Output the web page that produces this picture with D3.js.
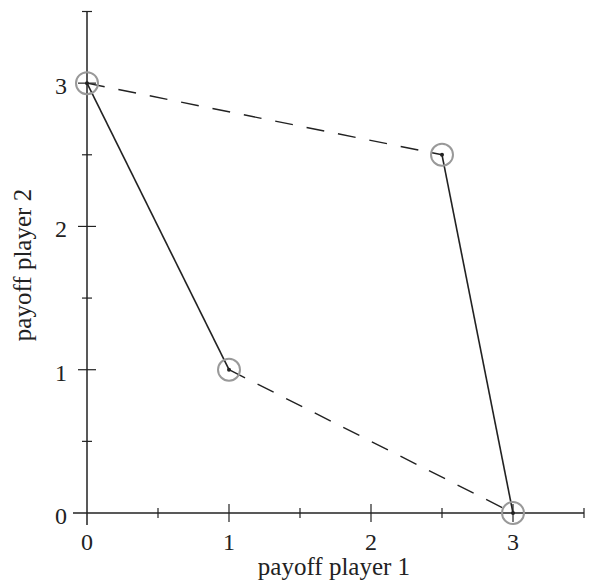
<!DOCTYPE html>
<html><head><meta charset="utf-8">
<script src="https://cdn.jsdelivr.net/npm/d3@7"></script>
<style>body{margin:0;background:#fff}svg text{font-family:"Liberation Serif","Times New Roman",serif;fill:#222}</style>
</head><body><svg width="591" height="581"></svg>
<script>
const majorTicks = [0, 1, 2, 3];
const minorTicks = [0.5, 1.5, 2.5, 3.5];
const points = [[0, 3], [1, 1], [2.5, 2.5], [3, 0]];
const solidSegments = [[[0, 3], [1, 1]], [[2.5, 2.5], [3, 0]]];
const dashedSegments = [[[0, 3], [2.5, 2.5]], [[1, 1], [3, 0]]];
const xTitle = "payoff player 1";
const yTitle = "payoff player 2";

const svg = d3.select("svg");
const x = d3.scaleLinear().domain([0, 3.5]).range([87, 584]);
const y = d3.scaleLinear().domain([0, 3.5]).range([513, 11.5]);
const ink = "#222";

// axes lines
svg.append("line").attr("x1", 73).attr("x2", x(3.5)).attr("y1", y(0)).attr("y2", y(0)).attr("stroke", ink).attr("stroke-width", 1.5);
svg.append("line").attr("x1", x(0)).attr("x2", x(0)).attr("y1", 525).attr("y2", y(3.5)).attr("stroke", ink).attr("stroke-width", 1.5);

// x ticks
majorTicks.forEach(t => {
  if (t > 0) svg.append("line").attr("x1", x(t)).attr("x2", x(t)).attr("y1", y(0) - 9).attr("y2", y(0) + 9).attr("stroke", ink).attr("stroke-width", 1.2);
  svg.append("text").attr("x", x(t)).attr("y", 550).attr("text-anchor", "middle").attr("font-size", 24).text(t);
});
minorTicks.forEach(t => {
  svg.append("line").attr("x1", x(t)).attr("x2", x(t)).attr("y1", y(0) - 5).attr("y2", y(0) + 5).attr("stroke", ink).attr("stroke-width", 1.2);
});
// y ticks
majorTicks.forEach(t => {
  if (t > 0) svg.append("line").attr("x1", x(0) - 9).attr("x2", x(0) + 9).attr("y1", y(t)).attr("y2", y(t)).attr("stroke", ink).attr("stroke-width", 1.2);
  svg.append("text").attr("x", 67).attr("y", y(t) + 11).attr("text-anchor", "end").attr("font-size", 24).text(t);
});
minorTicks.forEach(t => {
  svg.append("line").attr("x1", x(0) - 5).attr("x2", x(0) + 5).attr("y1", y(t)).attr("y2", y(t)).attr("stroke", ink).attr("stroke-width", 1.2);
});

// titles
svg.append("text").attr("x", 334).attr("y", 575).attr("text-anchor", "middle").attr("font-size", 25).text(xTitle);
svg.append("text").attr("transform", `translate(31,265) rotate(-90)`).attr("text-anchor", "middle").attr("font-size", 25).text(yTitle);

// segments
const line = d3.line().x(d => x(d[0])).y(d => y(d[1]));
solidSegments.forEach(s => svg.append("path").attr("d", line(s)).attr("fill", "none").attr("stroke", ink).attr("stroke-width", 1.6));
dashedSegments.forEach(s => svg.append("path").attr("d", line(s)).attr("fill", "none").attr("stroke", ink).attr("stroke-width", 1.4).attr("stroke-dasharray", "18,14"));

// points
points.forEach(p => {
  svg.append("circle").attr("cx", x(p[0])).attr("cy", y(p[1])).attr("r", 11).attr("fill", "none").attr("stroke", "#999").attr("stroke-width", 2);
  svg.append("circle").attr("cx", x(p[0])).attr("cy", y(p[1])).attr("r", 2).attr("fill", ink);
});
</script></body></html>
